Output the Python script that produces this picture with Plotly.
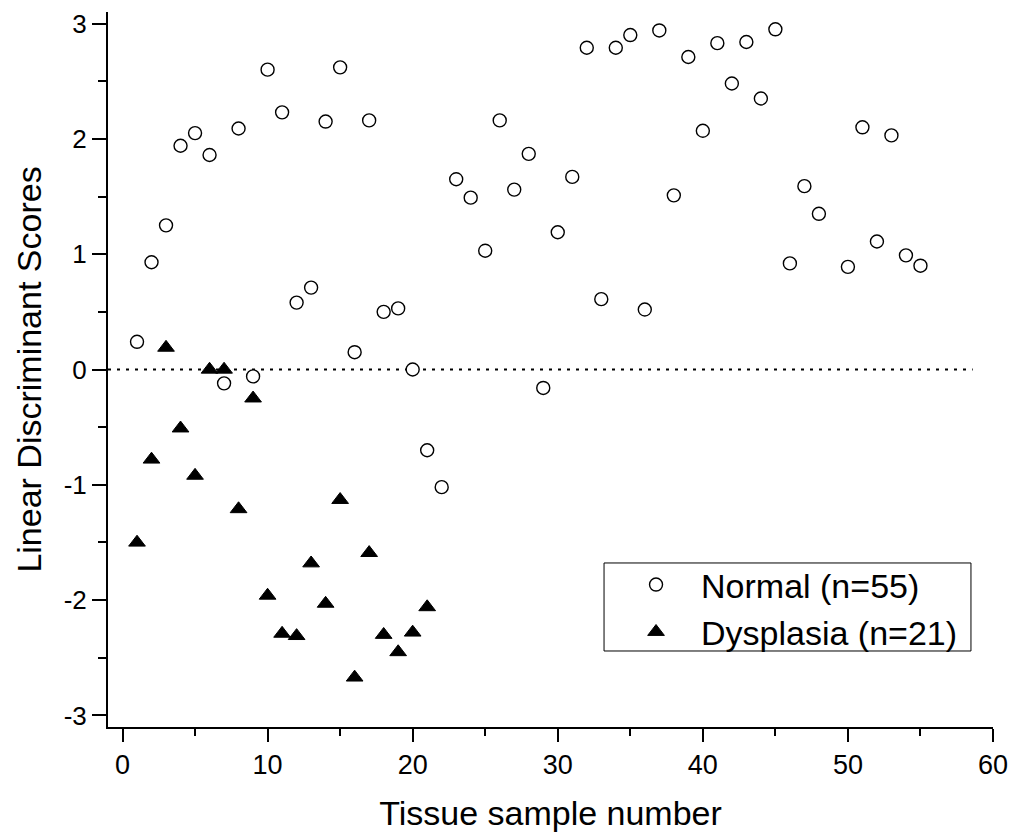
import plotly.graph_objects as go

# ---- data ----
normal_x = list(range(1, 49)) + [50, 51, 52, 53, 54, 55]
normal_y = [0.24, 0.93, 1.25, 1.94, 2.05, 1.86, -0.12, 2.09, -0.06, 2.60,
            2.23, 0.58, 0.71, 2.15, 2.62, 0.15, 2.16, 0.50, 0.53, 0.00,
            -0.70, -1.02, 1.65, 1.49, 1.03, 2.16, 1.56, 1.87, -0.16, 1.19,
            1.67, 2.79, 0.61, 2.79, 2.90, 0.52, 2.94, 1.51, 2.71, 2.07,
            2.83, 2.48, 2.84, 2.35, 2.95, 0.92, 1.59, 1.35,
            0.89, 2.10, 1.11, 2.03, 0.99, 0.90]

dysplasia_x = list(range(1, 22))
dysplasia_y = [-1.50, -0.78, 0.19, -0.51, -0.92, 0.00, 0.00, -1.21, -0.25, -1.96,
               -2.29, -2.31, -1.68, -2.03, -1.13, -2.67, -1.59, -2.30, -2.45, -2.28,
               -2.06]

threshold_x = [-1, 58.6]
threshold_y = [0, 0]

x_ticks = [0, 10, 20, 30, 40, 50, 60]
x_ticktext = ["0", "10", "20", "30", "40", "50", "60"]
y_ticks = [-3, -2, -1, 0, 1, 2, 3]
y_ticktext = ["-3", "-2", "-1", "0", "1", "2", "3"]

FONT = "Liberation Sans, Arial, sans-serif"

fig = go.Figure()
fig.add_trace(go.Scatter(x=threshold_x, y=threshold_y, mode="lines",
                         line=dict(color="black", width=2, dash="3px,6px"),
                         showlegend=False, hoverinfo="skip"))
fig.add_trace(go.Scatter(x=normal_x, y=normal_y, mode="markers", name="Normal (n=55)",
                         marker=dict(symbol="circle", size=13, color="white",
                                     line=dict(color="black", width=1.4))))
fig.add_trace(go.Scatter(x=dysplasia_x, y=dysplasia_y, mode="markers", name="Dysplasia (n=21)",
                         marker=dict(symbol="triangle-up", size=14.5, color="black",
                                     line=dict(color="black", width=1))))

axis_common = dict(showgrid=False, zeroline=False, showline=True, linecolor="black",
                   linewidth=2, ticks="outside", tickwidth=2, tickcolor="black",
                   mirror=False, automargin=False)

fig.update_xaxes(range=[-1, 60], tickvals=x_ticks, ticktext=x_ticktext, ticklen=13,
                 tickfont=dict(family=FONT, size=27, color="black"),
                 minor=dict(dtick=5, tick0=0, ticks="outside", ticklen=7, tickwidth=2, tickcolor="black"),
                 title=dict(text="Tissue sample number", font=dict(family=FONT, size=34, color="black"), standoff=24),
                 **axis_common)
fig.update_yaxes(range=[-3.1, 3.1], tickvals=y_ticks, ticktext=y_ticktext, ticklen=14,
                 tickfont=dict(family=FONT, size=26, color="black"),
                 minor=dict(dtick=0.5, tick0=0, ticks="outside", ticklen=8, tickwidth=2, tickcolor="black"),
                 title=dict(text="Linear Discriminant Scores", font=dict(family=FONT, size=34, color="black"), standoff=12),
                 **axis_common)

# legend frame
fig.add_shape(type="rect", xref="paper", yref="paper",
              x0=0.5605, x1=0.9751, y0=0.1063, y1=0.2294,
              line=dict(color="black", width=1), fillcolor="white", layer="above")

fig.update_layout(
    width=1011, height=832,
    margin=dict(l=108, r=18, t=12, b=105),
    paper_bgcolor="white", plot_bgcolor="white",
    font=dict(family=FONT, color="black"),
    legend=dict(x=0.5684, y=0.2392, xanchor="left", yanchor="top",
                bgcolor="rgba(0,0,0,0)", borderwidth=0,
                font=dict(family=FONT, size=34, color="black"),
                itemwidth=80),
)

fig.write_html("out.html")
